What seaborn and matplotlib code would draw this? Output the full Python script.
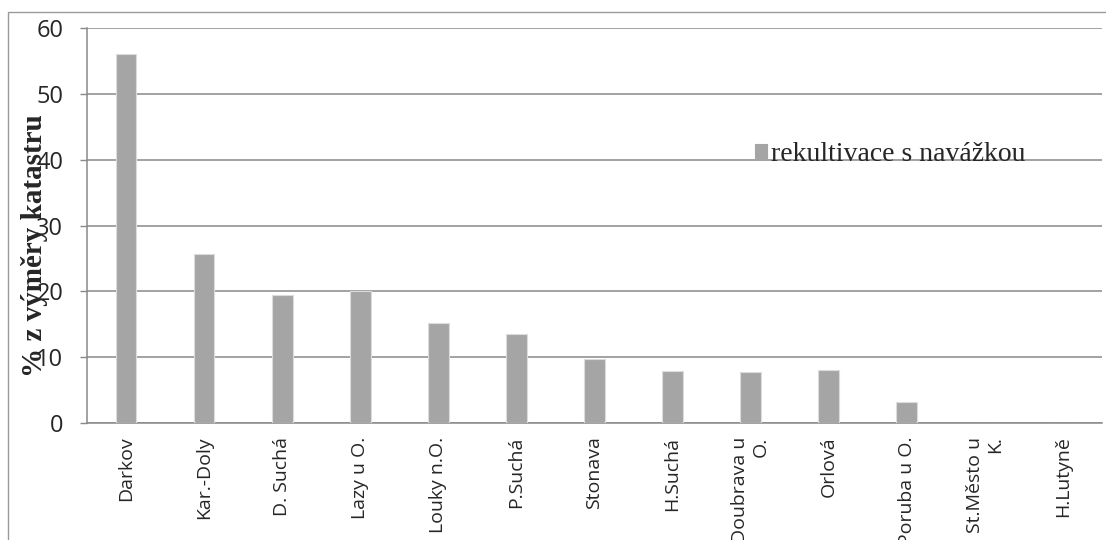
import matplotlib
matplotlib.use("Agg")
import matplotlib.pyplot as plt
import seaborn as sns
import pandas as pd
import numpy as np
from matplotlib.patches import Rectangle
from matplotlib.ticker import FixedLocator

# Share of cadastral area reclaimed with backfill, by municipality
localities = ["Darkov", "Kar.-Doly", "D. Suchá", "Lazy u O.", "Louky n.O.", "P.Suchá",
              "Stonava", "H.Suchá", "Doubrava u\nO.", "Orlová", "Poruba u O.",
              "St.Město u\nK.", "H.Lutyně"]
share = [56.1, 25.7, 19.5, 20.1, 15.2, 13.5, 9.7, 7.8, 7.7, 8.0, 3.1, 0.0, 0.0]
series_name = "rekultivace s navážkou"
y_label = "% z výměry katastru"
y_ticks = [0, 10, 20, 30, 40, 50, 60]

df = pd.DataFrame({"obec": localities, "podil": share})

sns.set_style("white")
plt.rcParams["font.family"] = ["Open Sans", "DejaVu Sans"]

fig = plt.figure(figsize=(11.06, 5.40), dpi=100)
ax = fig.add_axes([0.0787, 0.2172, 0.9177, 0.7304])

grid_c = "#898989"
sns.barplot(data=df, x="obec", y="podil", color="#a5a5a5", width=0.265,
            edgecolor="#dcdcdc", linewidth=0.8, saturation=1, label=series_name,
            ax=ax, zorder=3)

ax.set_ylim(0, 60)
ax.set_xlim(-0.5, len(localities) - 0.5)
ax.set_yticks(y_ticks)
ax.set_yticklabels([str(t) for t in y_ticks], fontsize=17)
ax.yaxis.grid(True, color=grid_c, linewidth=1.1, zorder=0)
ax.set_axisbelow(True)

# Category labels at centres, tick marks at category boundaries
ax.set_xticks(range(len(localities)))
ax.set_xticklabels(localities, rotation=90, fontsize=14, va="top", ha="center",
                   multialignment="right")
ax.xaxis.set_minor_locator(FixedLocator(np.arange(-0.5, len(localities), 1.0)))
ax.tick_params(axis="x", which="major", length=0, pad=10)
ax.tick_params(axis="x", which="minor", length=4.5, width=1, color=grid_c, direction="out")
ax.tick_params(axis="y", which="major", length=5, width=1, color=grid_c, pad=12, left=True)

for side in ["top", "right"]:
    ax.spines[side].set_visible(False)
for side in ["left", "bottom"]:
    ax.spines[side].set_color(grid_c)
    ax.spines[side].set_linewidth(1.1)

ax.set_xlabel("")
ax.set_ylabel(y_label, fontsize=21, fontweight="bold", family="Liberation Serif",
              labelpad=0)
ax.yaxis.set_label_coords(-0.038, 0.45)

leg = ax.legend(loc="center left", bbox_to_anchor=(0.658, 0.68), frameon=False,
                prop={"family": "Liberation Serif", "size": 20},
                handlelength=0.42, handleheight=0.42, handletextpad=0.15,
                borderpad=0, borderaxespad=0)
for h in leg.legend_handles:
    h.set_edgecolor("#a5a5a5")

# Chart area frame
fig.patches.append(Rectangle((8 / 1106, -0.1), 1.2, 1.1 - 12 / 540,
                             transform=fig.transFigure, fill=False,
                             edgecolor="#9a9a9a", linewidth=1.0))

fig.savefig("out.png", dpi=100)
